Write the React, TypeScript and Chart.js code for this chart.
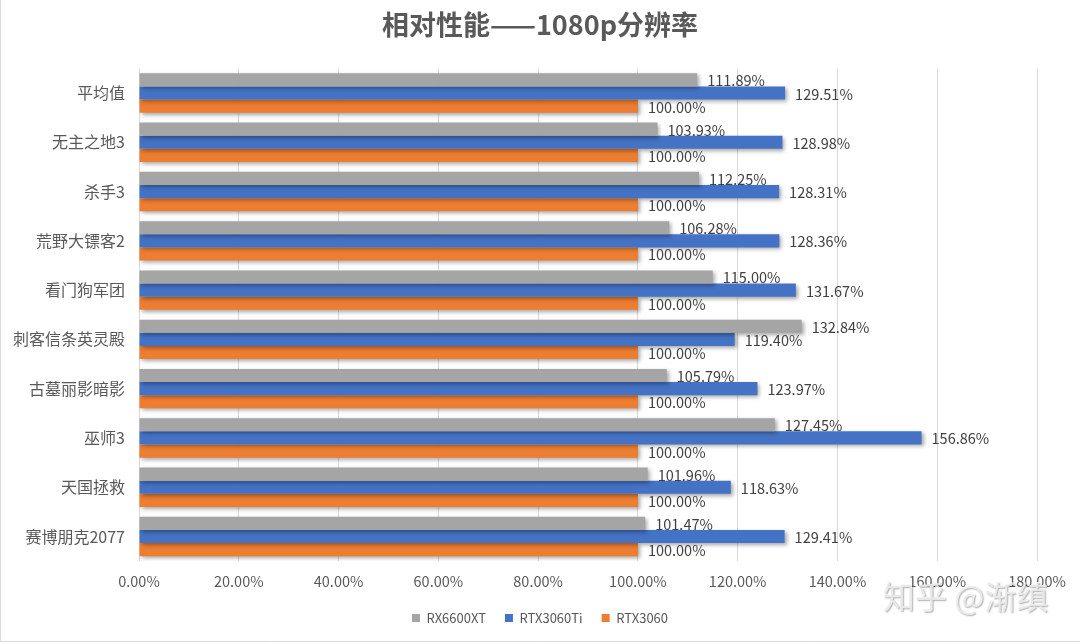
import React, { useEffect, useRef } from "react";
import { Chart, registerables } from "chart.js";

Chart.register(...registerables);

const categories = ["平均值", "无主之地3", "杀手3", "荒野大镖客2", "看门狗军团", "刺客信条英灵殿", "古墓丽影暗影", "巫师3", "天国拯救", "赛博朋克2077"];
const rx6600xt = [111.89, 103.93, 112.25, 106.28, 115.0, 132.84, 105.79, 127.45, 101.96, 101.47];
const rtx3060ti = [129.51, 128.98, 128.31, 128.36, 131.67, 119.4, 123.97, 156.86, 118.63, 129.41];
const rtx3060 = [100, 100, 100, 100, 100, 100, 100, 100, 100, 100];
const seriesNames = ["RX6600XT", "RTX3060Ti", "RTX3060"];
const seriesColors = ["#A5A5A5", "#4472C4", "#ED7D31"];
const titleText = "相对性能——1080p分辨率";
const watermarkText = "知乎 @渐缜";

const FONT = "'Noto Sans CJK SC', 'Noto Sans', sans-serif";

const shadowPlugin = {
  id: "barShadow",
  beforeDatasetsDraw(chart: any) {
    const ctx = chart.ctx;
    ctx.save();
    ctx.shadowColor = "rgba(0,0,0,0.35)";
    ctx.shadowBlur = 4;
    ctx.shadowOffsetX = 2;
    ctx.shadowOffsetY = 2;
  },
  afterDatasetsDraw(chart: any) {
    chart.ctx.restore();
  },
};

const labelPlugin = {
  id: "barLabels",
  afterDatasetsDraw(chart: any) {
    const ctx = chart.ctx;
    ctx.save();
    ctx.font = `14.5px ${FONT}`;
    ctx.fillStyle = "#404040";
    ctx.textAlign = "left";
    ctx.textBaseline = "middle";
    chart.data.datasets.forEach((ds: any, di: number) => {
      const meta = chart.getDatasetMeta(di);
      meta.data.forEach((el: any, i: number) => {
        const v = ds.data[i] as number;
        ctx.fillText(v.toFixed(2) + "%", el.x + 10, el.y + 1);
      });
    });
    ctx.restore();
  },
};

const decoPlugin = {
  id: "deco",
  afterDraw(chart: any) {
    const ctx = chart.ctx;
    ctx.save();
    ctx.strokeStyle = "#d9d9d9";
    ctx.lineWidth = 1;
    ctx.beginPath();
    ctx.moveTo(0.5, 0);
    ctx.lineTo(0.5, 641.5);
    ctx.lineTo(1080, 641.5);
    ctx.stroke();
    ctx.font = `32px ${FONT}`;
    ctx.textAlign = "left";
    ctx.textBaseline = "middle";
    ctx.shadowColor = "rgba(0,0,0,0.35)";
    ctx.shadowBlur = 1.5;
    ctx.shadowOffsetX = 1;
    ctx.shadowOffsetY = 1;
    ctx.fillStyle = "rgba(235,235,235,0.9)";
    ctx.fillText(watermarkText, 883, 597);
    ctx.restore();
  },
};

export default function App() {
  const ref = useRef<HTMLCanvasElement | null>(null);
  useEffect(() => {
    if (!ref.current) return;
    const chart = new Chart(ref.current, {
      type: "bar",
      data: {
        labels: categories,
        datasets: [rx6600xt, rtx3060ti, rtx3060].map((d, i) => ({
          label: seriesNames[i],
          data: d,
          backgroundColor: seriesColors[i],
          borderWidth: 0,
          barPercentage: 1,
          categoryPercentage: 0.8,
        })),
      },
      options: {
        indexAxis: "y",
        animation: false,
        responsive: false,
        devicePixelRatio: 1,
        layout: { padding: { left: 0, right: 0, top: 0, bottom: 9.5 } },
        plugins: {
          title: {
            display: true,
            text: titleText,
            color: "#595959",
            font: { family: FONT, size: 27, weight: "bold" },
            padding: { top: 8.5, bottom: 27.5 },
          },
          legend: {
            position: "bottom",
            labels: {
              boxWidth: 8,
              boxHeight: 8,
              padding: 19,
              color: "#595959",
              font: { family: FONT, size: 13 },
            },
          },
          tooltip: { enabled: false },
        },
        scales: {
          x: {
            min: 0,
            max: 180,
            ticks: {
              stepSize: 20,
              color: "#595959",
              padding: 12,
              font: { family: FONT, size: 14.5 },
              callback: (v: any) => Number(v).toFixed(2) + "%",
            },
            grid: { color: "#d9d9d9", drawTicks: false },
            border: { display: false },
            afterFit: (s: any) => {
              s.height = s.height - 10;
              s.paddingRight = 43;
            },
          },
          y: {
            ticks: {
              color: "#595959",
              padding: 14,
              font: { family: FONT, size: 16 },
            },
            grid: { display: false, drawTicks: false },
            border: { display: false },
            afterFit: (s: any) => {
              s.width = 139;
            },
          },
        },
      },
      plugins: [shadowPlugin, labelPlugin, decoPlugin],
    });
    return () => chart.destroy();
  }, []);
  return (
    <div style={{ position: "absolute", left: 0, top: 0, width: 1080, height: 644, background: "#fff" }}>
      <canvas ref={ref} width={1080} height={644} style={{ display: "block", width: 1080, height: 644 }} />
    </div>
  );
}
